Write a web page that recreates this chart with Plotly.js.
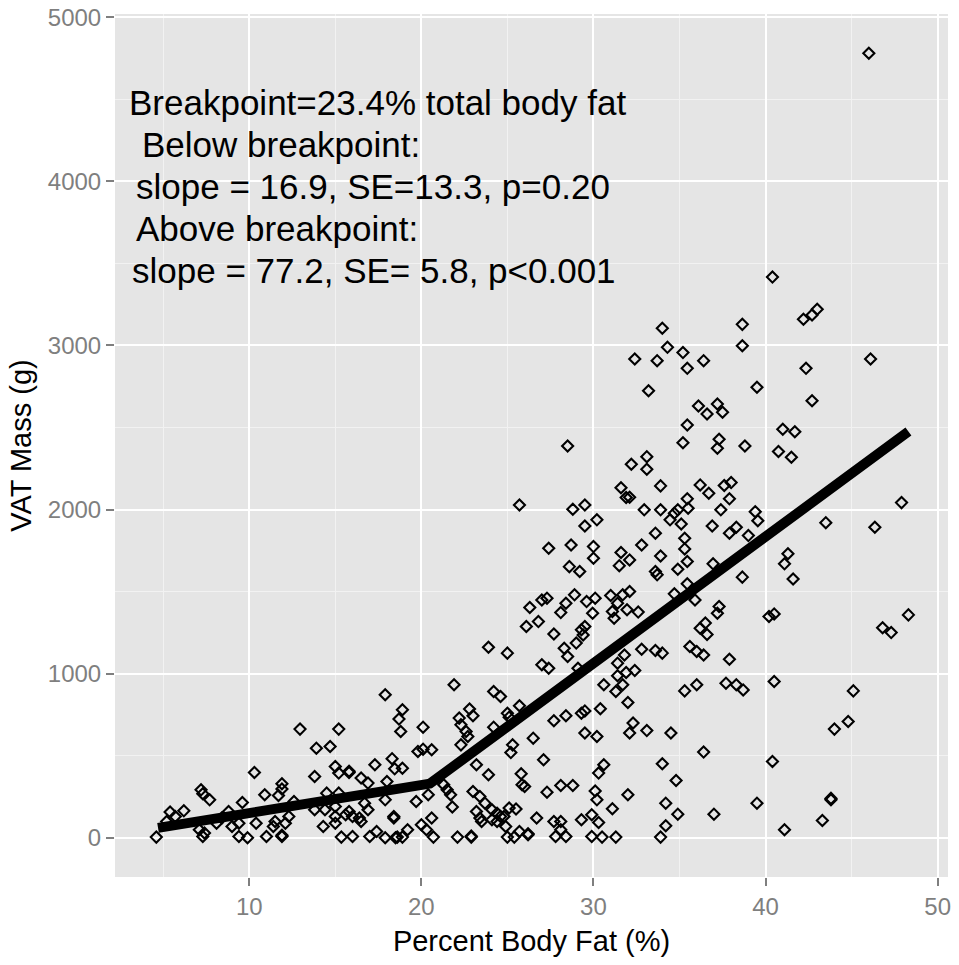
<!DOCTYPE html>
<html>
<head>
<meta charset="utf-8">
<script src="https://cdn.plot.ly/plotly-3.0.1.min.js"></script>
<style>html,body{margin:0;padding:0;background:#fff;}</style>
</head>
<body>
<div id="chart" style="width:959px;height:965px;"></div>
<script>
// Percent body fat (%) of each subject
const bodyFat = [
  17.9,18.9,18.7,18.8,12.95,15.2,13.9,14.7,18.3,17.3,15.0,15.8,15.8,15.2,16.5,16.9,18.0,18.45,10.3,13.8,
  11.9,11.9,11.7,7.2,7.3,7.7,10.9,9.6,14.5,15.2,12.6,6.2,5.4,8.8,13.8,14.4,15.0,15.8,16.7,16.9,
  17.9,15.6,16.0,16.4,16.5,18.4,18.4,5.7,5.2,7.1,7.4,7.3,8.1,8.4,9.0,9.4,9.4,9.9,10.4,11.0,
  11.4,11.9,11.9,12.1,11.5,12.3,14.3,15.0,15.35,16.0,17.0,17.4,17.9,18.5,4.6,15.0,
  27.7,23.9,25.0,28.3,28.5,29.0,29.4,27.0,27.4,29.1,21.9,24.2,24.6,25.7,25.0,25.1,22.8,23.0,22.2,22.3,
  22.6,22.7,22.3,20.1,19.8,20.1,20.6,24.2,26.5,27.7,28.4,29.3,29.5,29.5,30.2,25.3,25.2,27.1,25.8,25.85,
  26.0,23.9,23.2,18.9,27.3,28.1,28.8,30.1,30.2,19.7,20.4,21.3,21.5,21.7,21.8,23.0,23.4,23.7,24.1,24.4,
  24.8,25.1,25.5,23.2,23.4,23.5,24.1,24.4,24.6,24.9,25.0,25.4,25.7,26.2,26.2,26.7,27.7,28.1,28.1,27.8,
  28.4,29.3,29.9,29.9,20.6,20.0,20.3,20.7,19.2,18.6,18.9,22.1,22.9,22.9,
  32.8,33.6,34.0,35.6,36.0,36.4,36.6,37.9,31.8,31.4,31.9,32.4,30.6,31.3,31.7,31.4,32.0,30.4,35.3,36.0,
  37.7,38.3,38.7,40.5,32.3,32.1,33.1,34.5,36.4,40.4,34.0,30.6,30.3,34.8,32.0,31.1,34.2,34.9,37.0,39.5,
  34.2,33.9,41.1,30.3,30.5,31.3,
  45.1,44.8,44.0,43.8,43.8,43.3,
  28.5,25.7,28.8,29.5,29.5,30.2,27.4,28.7,30.0,30.0,28.6,29.2,28.9,28.4,28.1,27.3,27.0,26.3,26.8,26.1,
  29.6,30.1,29.95,29.3,29.5,
  35.45,35.2,37.3,37.2,38.8,41.0,41.7,40.75,41.5,32.2,33.1,33.1,31.6,31.9,32.1,33.9,36.2,36.7,37.6,38.0,
  37.9,35.45,35.5,34.9,34.7,34.45,35.1,32.95,33.9,37.4,39.4,39.55,36.9,37.9,38.3,39.0,33.6,35.3,35.3,32.8,
  31.6,31.5,32.1,33.9,35.45,34.9,33.6,33.7,36.95,38.65,41.3,41.1,41.6,35.45,34.7,35.9,31.0,31.7,32.1,31.4,
  31.95,32.6,31.1,31.2,37.3,37.2,40.2,40.5,36.2,36.5,
  47.9,43.5,46.35,48.3,46.8,47.3,
  40.4,43.0,42.7,42.2,38.65,38.65,34.0,34.3,32.4,33.7,35.2,35.45,36.4,46.1,42.35,33.2,39.5,42.7,36.1,36.6,
  37.2,37.5,46.0
];
// VAT mass (g) of each subject
const vatMass = [
  871,780,723,647,662,662,546,556,482,445,434,398,405,394,364,333,343,420,398,373,
  329,297,258,292,268,231,262,215,272,272,221,164,157,160,171,171,191,160,211,171,
  231,140,130,120,99,120,130,130,99,49,29,8,89,120,69,89,8,0,89,8,
  69,8,15,89,99,130,69,89,4,8,8,38,0,0,4,130,
  1242,1161,1125,1155,1104,1186,1236,1054,1033,1033,932,891,861,804,759,735,784,743,729,688,
  647,617,566,674,526,540,536,674,607,713,743,759,773,638,617,566,519,475,390,323,
  312,384,445,424,278,318,318,285,231,221,262,323,292,262,187,282,251,211,171,150,
  130,181,175,160,120,99,110,99,130,69,4,4,38,18,25,120,99,99,49,8,
  8,110,140,8,120,79,49,4,49,4,4,4,4,10,
  1149,1141,1125,1165,1135,1114,1238,1088,1114,1064,1007,1019,932,891,932,987,824,786,895,932,
  942,932,901,952,699,638,653,638,522,465,451,445,394,349,262,177,211,144,144,211,
  73,4,49,93,4,4,
  895,708,662,231,240,105,
  2387,2028,2002,2028,1900,1937,1764,1784,1774,1703,1652,1622,1480,1429,1372,1460,1449,1403,1317,1287,
  1439,1460,1368,1267,1287,
  2515,2407,2428,2373,2387,2489,2474,2353,2318,2276,2322,2245,2133,2073,2075,2144,2150,2099,2146,2164,
  2065,2065,2008,1998,1977,1937,1912,1998,1998,1998,1987,1932,1900,1856,1892,1841,1856,1825,1760,1784,
  1738,1658,1693,1717,1683,1636,1622,1602,1669,1588,1730,1669,1577,1547,1486,1449,1476,1480,1500,1429,
  1389,1375,1378,1338,1409,1368,1348,1364,1277,1308,
  2042,1920,1892,1358,1280,1250,
  3416,3220,3185,3159,3128,2998,3104,2988,2917,2907,2956,2860,2907,2917,2860,2724,2745,2663,2631,2582,
  2643,2593,4780
];
// Segmented (broken-stick) regression fit
const fitX = [4.7, 20.5, 48.3];
const fitY = [60, 330, 2475];
// Axis ticks
const xTicks = [10, 20, 30, 40, 50];
const yTicks = [0, 1000, 2000, 3000, 4000, 5000];
// Annotation text lines
const noteLines = [
  "Breakpoint=23.4% total body fat",
  "Below breakpoint:",
  "slope = 16.9, SE=13.3, p=0.20",
  "Above breakpoint:",
  "slope = 77.2, SE= 5.8, p<0.001"
];
const xTitle = "Percent Body Fat (%)";
const yTitle = "VAT Mass (g)";

// --- styling / layout ---
const FONT = "Liberation Sans, Arial, sans-serif";
const notePosPx = [[128,103],[141,145],[135,186],[135,228],[131,270]]; // left x, middle y (px)
const L = 115, R = 11, T = 14, B = 88, W = 959, H = 965;
const pw = W - L - R, ph = H - T - B;

const annotations = noteLines.map((t, i) => ({
  text: t, xref: 'paper', yref: 'paper',
  x: (notePosPx[i][0] - L) / pw, y: (H - B - notePosPx[i][1]) / ph,
  xanchor: 'left', yanchor: 'middle', showarrow: false, borderpad: 0,
  font: {family: FONT, size: 35, color: '#000'}
}));

const traces = [
  {
    type: 'scatter', mode: 'markers', x: bodyFat, y: vatMass,
    marker: {symbol: 'diamond-open', size: 8.5, color: '#000', line: {width: 2.1, color: '#000'}},
    hoverinfo: 'x+y', showlegend: false
  },
  {
    type: 'scatter', mode: 'lines', x: fitX, y: fitY,
    line: {color: '#000', width: 10}, showlegend: false
  }
];

const axisCommon = {
  showline: false, zeroline: false,
  gridcolor: '#ffffff', gridwidth: 2,
  ticks: 'outside', ticklen: 8, tickwidth: 2, tickcolor: '#7f7f7f',
  tickfont: {family: FONT, size: 24, color: '#7f7f7f'},
};

const layout = {
  width: W, height: H,
  margin: {l: L, r: R, t: T, b: B, pad: 0},
  paper_bgcolor: '#ffffff', plot_bgcolor: '#e5e5e5',
  showlegend: false,
  xaxis: Object.assign({}, axisCommon, {
    range: [2.2, 50.6], tickmode: 'array', tickvals: xTicks, ticktext: xTicks.map(String),
    minor: {dtick: 5, tick0: 0, showgrid: true, gridcolor: '#f2f2f2', gridwidth: 1, ticks: ''},
    title: {text: xTitle, font: {family: FONT, size: 29, color: '#000'}, standoff: 11}
  }),
  yaxis: Object.assign({}, axisCommon, {
    range: [-239, 5019], tickmode: 'array', tickvals: yTicks, ticktext: yTicks.map(String),
    minor: {dtick: 500, tick0: 0, showgrid: true, gridcolor: '#f2f2f2', gridwidth: 1, ticks: ''},
    title: {text: yTitle, font: {family: FONT, size: 29, color: '#000'}, standoff: 7}
  }),
  annotations: annotations
};

Plotly.newPlot('chart', traces, layout, {displayModeBar: false, staticPlot: true});
</script>
</body>
</html>
